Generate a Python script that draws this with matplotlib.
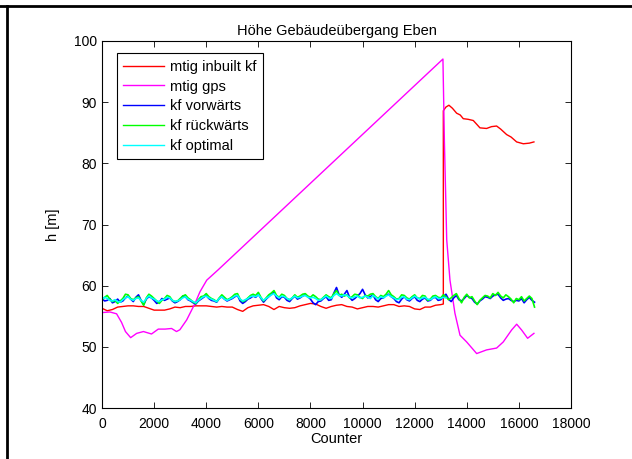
import matplotlib
matplotlib.use("Agg")
import matplotlib.pyplot as plt
from matplotlib.lines import Line2D

plt.rcParams['font.family'] = ['Liberation Sans', 'DejaVu Sans']

# sample positions for the noisy filter outputs (every 100 counts)
counter = list(range(0, 16601, 100))

kf_gruen = [57.7, 58.1, 58.4, 57.8, 57.4, 57.6, 57.1, 57.5, 57.9, 58.6,
            58.5, 57.9, 57.7, 58.0, 58.2, 57.5, 56.8, 58.0, 58.6, 58.3,
            57.9, 57.5, 57.1, 57.6, 57.9, 58.4, 58.2, 57.6, 57.4, 57.5,
            57.9, 58.3, 58.5, 58.0, 57.7, 57.3, 57.1, 57.7, 58.2, 58.3,
            58.7, 58.2, 57.9, 57.7, 57.4, 58.0, 58.5, 58.1, 57.7, 57.9,
            58.2, 58.6, 58.7, 57.8, 57.4, 57.6, 58.0, 58.4, 58.6, 58.4,
            58.9, 58.1, 57.5, 58.0, 58.5, 58.8, 59.2, 58.4, 58.1, 58.6,
            58.4, 57.9, 57.7, 58.0, 58.5, 58.1, 58.3, 58.6, 58.7, 58.3,
            58.1, 58.5, 58.2, 57.8, 57.7, 58.1, 58.5, 58.2, 58.0, 58.7,
            59.2, 58.4, 58.6, 58.3, 58.5, 58.0, 58.2, 58.6, 58.5, 58.1,
            57.9, 58.4, 58.3, 58.6, 58.7, 58.2, 57.9, 58.4, 58.2, 58.6,
            59.2, 58.5, 58.2, 57.8, 57.9, 58.5, 58.4, 58.0, 57.8, 58.2,
            58.5, 58.0, 57.9, 58.4, 58.3, 57.6, 57.8, 58.3, 58.4, 58.1,
            58.0, 58.5, 58.2, 57.7, 58.0, 58.4, 58.7, 57.9, 57.2, 58.1,
            58.6, 58.0, 58.2, 57.5, 56.9, 57.6, 58.0, 58.4, 58.3, 58.0,
            58.7, 58.4, 58.9, 58.3, 58.0, 58.5, 58.2, 57.8, 57.2, 57.9,
            57.7, 58.2, 57.5, 57.9, 58.3, 57.9, 56.5]

kf_blau = [57.9, 57.5, 57.6, 57.9, 57.2, 57.4, 57.8, 57.3, 57.5, 58.0,
           58.3, 57.8, 57.4, 58.1, 58.5, 57.6, 56.9, 57.8, 58.2, 58.0,
           57.6, 57.1, 57.3, 57.9, 57.6, 57.8, 58.0, 57.5, 57.2, 57.4,
           57.7, 58.3, 58.2, 57.7, 57.5, 57.2, 57.0, 57.5, 57.8, 58.1,
           58.4, 57.9, 57.6, 57.5, 57.3, 57.9, 58.2, 57.8, 57.5, 57.7,
           57.9, 58.2, 58.4, 57.5, 57.1, 57.4, 57.8, 58.0, 58.3, 58.1,
           58.6, 57.9, 57.3, 57.8, 58.2, 58.6, 58.9, 58.0, 57.7, 58.2,
           58.1, 57.6, 57.4, 57.9, 58.3, 57.8, 58.0, 58.3, 58.5, 58.2,
           57.8, 57.2, 56.9, 57.4, 57.5, 57.9, 58.2, 57.6, 57.7, 58.8,
           59.7, 58.5, 58.1, 58.6, 59.2, 58.1, 57.6, 57.9, 58.3, 58.7,
           59.4, 58.5, 58.0, 58.2, 58.5, 57.7, 57.4, 57.9, 58.0, 58.4,
           58.6, 58.2, 57.9, 57.4, 57.2, 57.8, 58.2, 57.7, 57.5, 57.9,
           58.2, 57.6, 57.4, 57.8, 58.0, 57.5, 57.6, 58.0, 58.1, 57.6,
           57.7, 58.2, 58.6, 57.8, 57.4, 58.0, 58.4, 57.7, 57.5, 57.9,
           58.4, 58.1, 57.9, 57.3, 57.0, 57.5, 57.8, 58.2, 58.1, 57.9,
           58.3, 58.5, 58.6, 58.0, 57.6, 57.8, 57.9, 57.6, 57.4, 57.6,
           57.5, 57.9, 57.2, 57.7, 58.1, 57.6, 57.3]

# kf optimal is only visible up to ~13200
counter_opt = list(range(0, 13201, 100))
kf_opt = [57.8, 58.1, 57.9, 57.6, 57.5, 57.7, 57.4, 57.3, 57.7, 58.0,
          58.2, 57.8, 57.6, 57.9, 58.0, 57.6, 57.3, 57.9, 58.3, 58.0,
          57.8, 57.5, 57.4, 57.7, 57.8, 58.1, 58.0, 57.6, 57.4, 57.5,
          57.7, 58.0, 58.2, 57.8, 57.6, 57.4, 57.2, 57.6, 57.9, 58.2,
          58.3, 58.0, 57.8, 57.6, 57.4, 57.9, 58.2, 57.8, 57.6, 57.8,
          58.0, 58.3, 58.4, 57.8, 57.5, 57.7, 57.9, 58.2, 58.3, 58.2,
          58.5, 58.0, 57.6, 57.9, 58.2, 58.5, 58.7, 58.3, 58.0, 58.3,
          58.2, 57.9, 57.7, 58.0, 58.3, 58.0, 58.1, 58.3, 58.4, 58.1,
          58.0, 58.1, 57.9, 57.6, 57.7, 58.0, 58.3, 58.0, 57.9, 58.4,
          58.7, 58.4, 58.3, 58.5, 58.4, 58.1, 58.0, 58.2, 58.3, 58.0,
          58.1, 58.3, 58.1, 57.9, 58.4, 58.1, 57.8, 58.2, 58.0, 58.3,
          58.5, 58.2, 58.0, 57.7, 57.8, 58.1, 58.2, 57.8, 57.7, 58.0,
          58.3, 58.0, 57.8, 58.0, 58.1, 57.8, 57.7, 58.0, 58.2, 57.9,
          57.9, 58.1, 58.0]

# mtig inbuilt kf, low part up to the jump, then the upper part
counter_rot = list(range(0, 13001, 200)) + [13100, 13100, 13200, 13315, 13450,
              13610, 13750, 13865, 14050, 14250, 14400, 14505, 14760, 14950,
              15145, 15300, 15530, 15700, 15914, 16170, 16400, 16577]
mtig_kf = [56.3, 55.9, 56.1, 56.5, 56.6, 56.7, 56.7, 56.6, 56.6, 56.3,
           56.0, 56.0, 56.0, 56.2, 56.5, 56.4, 56.6, 56.6, 56.7, 56.7,
           56.7, 56.6, 56.5, 56.6, 56.5, 56.5, 56.1, 55.8, 56.4, 56.7,
           56.8, 56.9, 56.6, 56.1, 56.6, 56.4, 56.3, 56.4, 56.7, 56.9,
           57.1, 57.0, 56.6, 56.3, 56.6, 56.8, 56.9, 56.6, 56.5, 56.2,
           56.4, 56.6, 56.6, 56.5, 56.7, 56.9, 56.9, 56.6, 56.7, 56.6,
           56.2, 56.1, 56.5, 56.5, 56.8, 56.9, 57.0,
           88.6, 89.2, 89.5, 89.0, 88.2, 87.9, 87.3, 87.2, 87.0, 86.3,
           85.8, 85.7, 86.0, 86.1, 85.6, 84.7, 84.3, 83.5, 83.2, 83.3, 83.5]

counter_gps = [0, 300, 560, 750, 900, 1100, 1330, 1590, 1900, 2160, 2420,
               2670, 2860, 2990, 3250, 3570, 3760, 4020, 4460, 13085, 13140,
               13230, 13355, 13545, 13740, 13995, 14380, 14760, 15145, 15400,
               15720, 15915, 16105, 16335, 16577]
mtig_gps = [55.6, 55.7, 55.4, 54.0, 52.5, 51.5, 52.2, 52.5, 52.1, 52.9, 52.9,
            53.0, 52.5, 52.8, 54.4, 57.1, 59.0, 60.9, 62.6, 97.05, 83.8,
            67.5, 60.9, 55.5, 51.9, 50.8, 48.9, 49.5, 49.8, 50.8,
            52.75, 53.7, 52.75, 51.4, 52.2]

fig = plt.figure(figsize=(6.32, 4.59), dpi=100)
ax = fig.add_axes([102 / 632, 1 - 408 / 459, 469 / 632, 367 / 459])

lw = 1.0
ax.plot(counter_rot, mtig_kf, color='#ff0000', lw=lw, label='mtig inbuilt kf')
ax.plot(counter_gps, mtig_gps, color='#ff00ff', lw=lw, label='mtig gps')
ax.plot(counter, kf_blau, color='#0000ff', lw=1.2, label='kf vorwärts')
ax.plot(counter, kf_gruen, color='#00ff00', lw=1.2, label='kf rückwärts')
ax.plot(counter_opt, kf_opt, color='#00ffff', lw=1.2, label='kf optimal')

ax.set_xlim(0, 18000)
ax.set_ylim(40, 100)
ax.set_xticks(range(0, 18001, 2000))
ax.set_yticks(range(40, 101, 10))
ax.tick_params(direction='in', top=True, right=True, length=4, width=0.6,
               labelsize=10)
ax.tick_params(axis='x', pad=6.5)
ax.tick_params(axis='y', pad=3.5)
for s in ax.spines.values():
    s.set_linewidth(0.8)

ax.set_title('Höhe Gebäudeübergang Eben', fontsize=10.5, pad=4)
ax.set_xlabel('Counter', fontsize=10.5, labelpad=1)
ax.set_ylabel('h [m]', fontsize=10.5, labelpad=10)

leg = ax.legend(loc='upper left', bbox_to_anchor=(0.031, 0.9665),
                borderaxespad=0, fancybox=False, edgecolor='black',
                fontsize=10.5, handlelength=2.8, handletextpad=0.4,
                labelspacing=0.39, borderpad=0.45, framealpha=1)
leg.get_frame().set_linewidth(0.8)
for h in leg.get_lines():
    h.set_linewidth(1.0)

# frame lines of the surrounding page
fig.add_artist(Line2D([0, 1], [1 - 6 / 459, 1 - 6 / 459], color='black', lw=2))
fig.add_artist(Line2D([6.5 / 632, 6.5 / 632], [0, 1 - 6 / 459], color='black', lw=2))

fig.savefig('out.png', dpi=100)
